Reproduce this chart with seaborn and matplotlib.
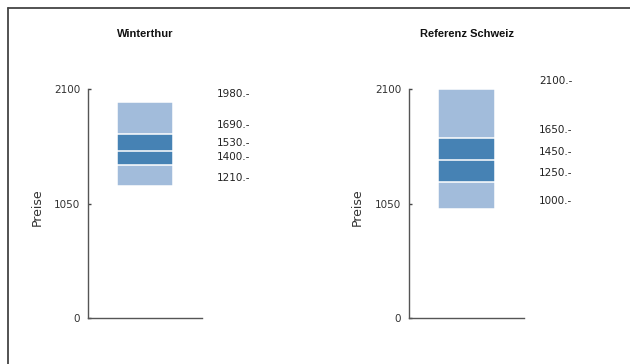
import matplotlib
matplotlib.use('Agg')
import matplotlib.pyplot as plt
import seaborn as sns
from matplotlib.lines import Line2D

# Price quantiles (min, q1, median, q3, max) per region
regions = ['Winterthur', 'Referenz Schweiz']
winterthur = [1210, 1400, 1530, 1690, 1980]
schweiz = [1000, 1250, 1450, 1650, 2100]
y_ticks = [0, 1050, 2100]

light = '#a2bcdb'
dark = '#4682b4'
grey = '#444444'

sns.set_style('white')
plt.rcParams['font.family'] = ['DejaVu Sans']

fig = plt.figure(figsize=(6.3, 3.64), dpi=100)
axes = [fig.add_axes([88 / 630, 46 / 364, 114 / 630, 229 / 364]),
        fig.add_axes([409 / 630, 46 / 364, 115 / 630, 229 / 364])]

for ax, name, vals in zip(axes, regions, [winterthur, schweiz]):
    # stack layers from the top down so each shorter bar covers the one behind
    layers = [(vals[4], light), (vals[3], dark), (vals[2], dark),
              (vals[1], light), (vals[0], 'white')]
    for v, c in layers:
        sns.barplot(x=[name], y=[v], color=c, width=0.49, edgecolor='white',
                    linewidth=1.1, saturation=1, ax=ax)

    ax.set_xlim(-0.5, 0.5)
    ax.set_ylim(0, 2100)
    ax.set_xticks([])
    ax.set_xlabel('')
    ax.set_yticks(y_ticks)
    ax.set_yticklabels([str(t) for t in y_ticks], fontsize=7.5, color='#333333')
    ax.tick_params(axis='y', direction='in', length=2.5, width=1, color=grey, pad=5.5, left=True)
    for s in ['top', 'right']:
        ax.spines[s].set_visible(False)
    for s in ['left', 'bottom']:
        ax.spines[s].set_color('#555555')
        ax.spines[s].set_linewidth(1)

    ax.set_ylabel('Preise', fontsize=9, color='#333333')
    ax.yaxis.set_label_coords(-0.39, 0.485)

    ax.text(0.5, 1.24, name, transform=ax.transAxes, ha='center', va='center',
            fontsize=8, fontweight='bold', family='Liberation Sans', color='#111111')

    for v in vals:
        ax.annotate(f'{v}.-', xy=(1.13, v), xycoords=('axes fraction', 'data'),
                    xytext=(0, 6), textcoords='offset points', ha='left', va='center',
                    fontsize=7.5, color='#222222', annotation_clip=False)

# frame lines at top and left of the image
fig.add_artist(Line2D([8 / 630, 1], [1 - 8 / 364, 1 - 8 / 364], color=grey, lw=1.3,
                      transform=fig.transFigure))
fig.add_artist(Line2D([8 / 630, 8 / 630], [0, 1 - 8 / 364], color=grey, lw=1.3,
                      transform=fig.transFigure))

fig.savefig('out.png', dpi=100)
